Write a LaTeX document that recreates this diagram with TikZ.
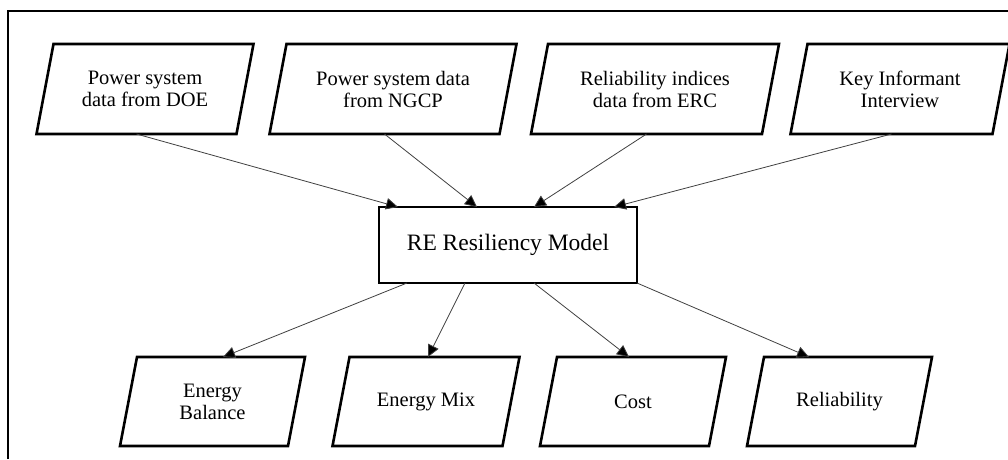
\documentclass[tikz,border=0pt]{standalone}
\usepackage{fontspec}
\setmainfont{Liberation Serif}
\usetikzlibrary{arrows.meta,calc}
\tikzset{
  holder/.style={inner sep=0pt, outer sep=0pt, align=center,
    font=\fontsize{20.5}{22}\selectfont},
  parabox/.style={line width=2.6pt, line join=miter},
  link/.style={draw=black!75, line width=0.8pt,
    -{Triangle[length=12pt,width=11.5pt,fill=black]}},
  modelbox/.style={draw, line width=2.8pt, inner sep=0pt, outer sep=0pt,
    minimum width=258pt, minimum height=76pt,
    font=\fontsize{23.5}{28}\selectfont},
}
\begin{document}
\begin{tikzpicture}[x=1pt,y=-1pt]
\useasboundingbox (0,0) rectangle (1008,459);
\clip (0,0) rectangle (1008,459);

% outer frame
\draw[line width=1.8pt] (8,459) -- (8,11) -- (1008,11);

% data sources
\node[holder, minimum width=200pt, minimum height=90pt] (doe)  at (145,89)  {Power system\\data from DOE};
\node[holder, minimum width=230pt, minimum height=90pt] (ngcp) at (393,89)  {Power system data\\from NGCP};
\node[holder, minimum width=231pt, minimum height=90pt] (erc)  at (655,89)  {Reliability indices\\data from ERC};
\node[holder, minimum width=202pt, minimum height=90pt] (kii)  at (900,89)  {Key Informant\\Interview};

% model
\node[modelbox] (model) at (508,245) {RE Resiliency Model};

% outputs
\node[holder, minimum width=168pt, minimum height=89pt] (eb)   at (212.5,401.5) {Energy\\Balance};
\node[holder, minimum width=170pt, minimum height=89pt] (em)   at (426,401.5)   {Energy Mix};
\node[holder, minimum width=169pt, minimum height=89pt] (cost) at (633,401.5)   {Cost};
\node[holder, minimum width=168pt, minimum height=89pt] (rel)  at (839.5,401.5) {Reliability};

% slanted outlines around the text holders
\foreach \n in {doe,ngcp,erc,kii,eb,em,cost,rel}
  \draw[parabox] ([xshift=8.5pt]\n.north west) -- ([xshift=8.5pt]\n.north east)
    -- ([xshift=-8.5pt]\n.south east) -- ([xshift=-8.5pt]\n.south west) -- cycle;

% inputs into the model
\draw[link] ([xshift=-8.5pt]doe.south)  -- ([xshift=19pt]model.north west);
\draw[link] ([xshift=-8.5pt]ngcp.south) -- ([xshift=98pt]model.north west);
\draw[link] ([xshift=-8.5pt]erc.south)  -- ([xshift=155pt]model.north west);
\draw[link] ([xshift=-8.5pt]kii.south)  -- ([xshift=235pt]model.north west);

% model outputs
\draw[link] ([xshift=28pt]model.south west)  -- ([xshift=10.5pt]eb.north);
\draw[link] ([xshift=86pt]model.south west)  -- ([xshift=2pt]em.north);
\draw[link] ([xshift=155pt]model.south west) -- ([xshift=-4pt]cost.north);
\draw[link] (model.south east)               -- ([xshift=-30.5pt]rel.north);
\end{tikzpicture}
\end{document}
